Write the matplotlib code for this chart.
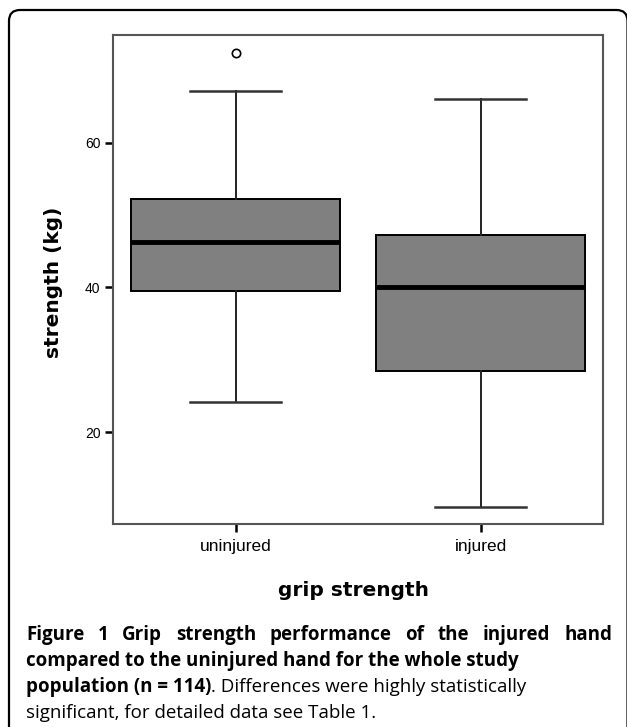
import matplotlib
matplotlib.use('Agg')
import matplotlib.pyplot as plt
from matplotlib.patches import FancyBboxPatch
from matplotlib.transforms import IdentityTransform

# box statistics (kg)
groups = ['uninjured', 'injured']
whisker_lo = [24.1, 9.7]
q1 = [39.45, 28.4]
median = [46.35, 40.1]
q3 = [52.25, 47.3]
whisker_hi = [67.1, 66.1]
outliers = [[72.4], []]
yticks = [20, 40, 60]

xlabel = 'grip strength'
ylabel = 'strength (kg)'
caption1 = 'Figure 1 Grip strength performance of the injured hand'
caption2 = 'compared to the uninjured hand for the whole study'
caption3_bold = 'population (n = 114)'
caption3_reg = '. Differences were highly statistically'
caption4 = 'significant, for detailed data see Table 1.'

W, H = 627, 727
dpi = 100
fig = plt.figure(figsize=(W / dpi, H / dpi), dpi=dpi)

# outer rounded frame (right/bottom run off the picture)
frame = FancyBboxPatch((9 / dpi, -0.3), (627.5 - 9) / dpi, (H - 10) / dpi + 0.3,
                       boxstyle='round,pad=0,rounding_size=0.11',
                       transform=fig.dpi_scale_trans, facecolor='none',
                       edgecolor='black', linewidth=1.6, clip_on=False)
fig.patches.append(frame)

ax = fig.add_axes([113 / W, 1 - 524 / H, (603 - 113) / W, (524 - 35) / H])

stats = []
for i, g in enumerate(groups):
    stats.append(dict(label=g, whislo=whisker_lo[i], q1=q1[i], med=median[i],
                      q3=q3[i], whishi=whisker_hi[i], fliers=outliers[i]))

ax.bxp(stats, positions=[1, 2], widths=0.853, capwidths=0.375,
       patch_artist=True, showfliers=True,
       boxprops=dict(facecolor='#808080', edgecolor='black', linewidth=1.4),
       medianprops=dict(color='black', linewidth=3.5, solid_capstyle='butt'),
       whiskerprops=dict(color='#222222', linewidth=1.4),
       capprops=dict(color='#333333', linewidth=1.8),
       flierprops=dict(marker='o', markerfacecolor='white',
                       markeredgecolor='black', markersize=6,
                       markeredgewidth=1.2))

ax.set_xlim(0.5, 2.5)
ax.set_ylim(7.3, 74.9)
ax.set_yticks(yticks)
ax.set_yticklabels([str(v) for v in yticks], fontsize=10,
                   family='Liberation Sans')
ax.set_xticks([1, 2])
ax.set_xticklabels(groups, fontsize=12.5, family='Liberation Sans')
ax.tick_params(axis='both', direction='out', length=6, width=1.8,
               color='black')
ax.tick_params(axis='y', pad=3)
ax.tick_params(axis='x', pad=5)
for s in ax.spines.values():
    s.set_color('#555555')
    s.set_linewidth(1.5)

ax.set_xlabel(xlabel, fontsize=14.5, fontweight='bold',
              family='DejaVu Sans', va='center')
ax.xaxis.set_label_coords(0.49, -0.135)
ax.set_ylabel(ylabel, fontsize=14.5, fontweight='bold',
              family='DejaVu Sans', va='center')
ax.yaxis.set_label_coords(-0.122, 0.495)

# caption, placed in pixel coordinates
ident = IdentityTransform()
cap_font = dict(family='Open Sans', fontsize=13.5, va='baseline')
renderer = fig.canvas.get_renderer()


def tx(x, ytop, s, **kw):
    return fig.text(x, H - ytop, s, transform=ident, **kw)


# first line is justified between the caption margins
words = caption1.split()
left, right = 26, 612
items = [tx(0, 640, w, fontweight='bold', **cap_font) for w in words]
widths = [t.get_window_extent(renderer).width for t in items]
gap = (right - left - sum(widths)) / (len(words) - 1)
x = left
for t, w in zip(items, widths):
    t.set_x(x)
    x += w + gap

tx(left, 666, caption2, fontweight='bold', **cap_font)
b = tx(left, 692, caption3_bold, fontweight='bold', **cap_font)
bw = b.get_window_extent(renderer).width
tx(left + bw, 692, caption3_reg, **cap_font)
tx(left, 718, caption4, **cap_font)

fig.savefig('out.png', dpi=dpi)
